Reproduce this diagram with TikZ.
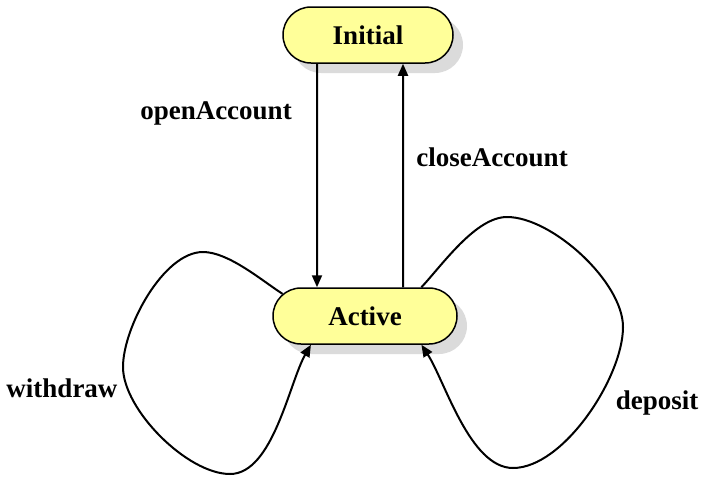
\documentclass[tikz,border=0pt]{standalone}
\usepackage{fontspec}
\setmainfont{Liberation Serif}
\usetikzlibrary{shapes.misc,shadows,arrows.meta}

\definecolor{statefill}{HTML}{FFFF99}

\begin{document}
\begin{tikzpicture}[x=50pt, y=50pt, >={Triangle[length=6pt,width=5pt]},
    font=\fontsize{13.5}{16}\selectfont\bfseries,
    state/.style={rounded rectangle, draw=black, line width=0.75pt, fill=statefill,
        minimum height=28pt, inner sep=0pt,
        drop shadow={shadow xshift=5pt, shadow yshift=-5pt, fill=black!14, opacity=1}},
    trans/.style={line width=1pt},
    loop/.style={trans, looseness=0.72}]
    \useasboundingbox (0, 0) rectangle (7.01, 4.78);

    \node[state, minimum width=85pt] (initial) at (3.68, 4.43) {Initial};
    \node[state, minimum width=92pt] (active) at (3.65, 1.62) {Active};

    \node (open) at (2.16, 3.65) {openAccount};
    \node (close) at (4.92, 3.21) {closeAccount};
    \node (withdraw) at (0.62, 0.90) {withdraw};
    \node (deposit) at (6.57, 0.75) {deposit};

    \draw[trans, ->] ([xshift=-25.5pt]initial.south) -- ([xshift=-24pt]active.north);
    \draw[trans, ->] ([xshift=19pt]active.north) -- ([xshift=17.5pt]initial.south);
    % self loops
    \draw[loop, ->] (active.165) to[out=147, in=0] (2.03, 2.26)
        to[out=180, in=90] (1.23, 1.11) to[out=-90, in=180] (2.30, 0.04)
        to[out=0, in=240] (active.208);
    \draw[loop, ->] (active.27) to[out=47, in=180] (5.07, 2.61)
        to[out=0, in=90] (6.23, 1.51) to[out=-90, in=0] (5.13, 0.10)
        to[out=180, in=-57] (active.333);
\end{tikzpicture}
\end{document}
